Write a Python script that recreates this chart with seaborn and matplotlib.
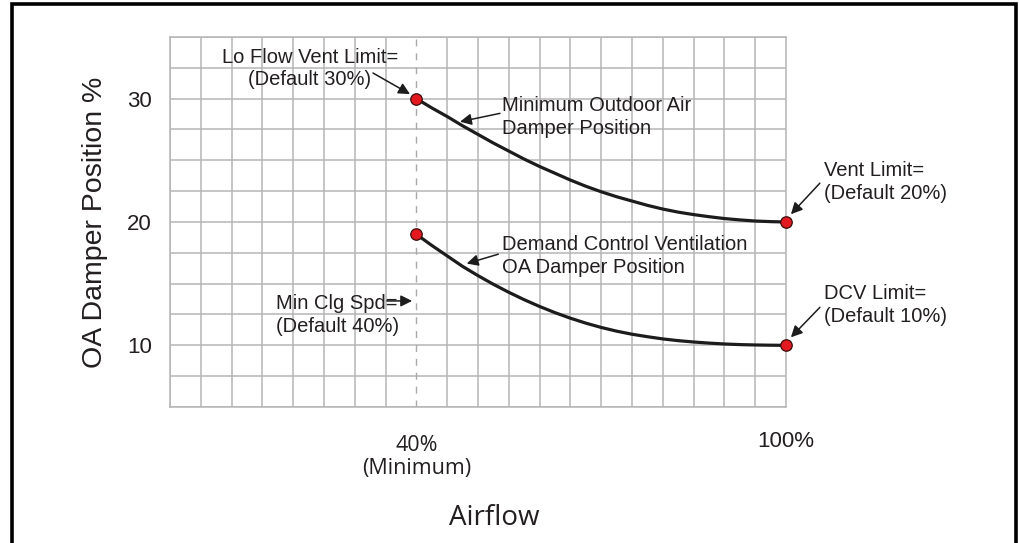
import pandas as pd
import matplotlib
matplotlib.use("Agg")
import matplotlib.pyplot as plt
import matplotlib.ticker as mticker
from matplotlib.patches import Rectangle
import seaborn as sns

# data
airflow = [40, 42.5, 45, 47.5, 50, 52.5, 55, 57.5, 60, 62.5, 65, 67.5, 70,
           72.5, 75, 77.5, 80, 82.5, 85, 87.5, 90, 92.5, 95, 97.5, 100]
min_oa = [30.0, 29.25, 28.55, 27.8, 27.1, 26.4, 25.75, 25.1, 24.5, 23.95, 23.4, 22.9, 22.45,
          22.05, 21.7, 21.35, 21.05, 20.8, 20.6, 20.43, 20.28, 20.17, 20.08, 20.03, 20.0]
dcv_oa = [19.0, 18.1, 17.25, 16.4, 15.65, 14.95, 14.3, 13.7, 13.15, 12.65, 12.2, 11.8, 11.45,
          11.15, 10.9, 10.7, 10.52, 10.38, 10.27, 10.18, 10.11, 10.06, 10.03, 10.01, 10.0]

end_x = [40, 100, 40, 100]
end_y = [30, 20, 19, 10]

y_ticks = [10, 20, 30]
x_ticks = [40, 100]
x_labels = ["40%\n(Minimum)", "100%"]

sns.set_style("white")
plt.rcParams["font.family"] = ["Liberation Sans", "DejaVu Sans"]

txt = "#231f20"
grid_c = "#b5b5b5"

df = pd.DataFrame({
    "airflow": airflow + airflow,
    "pos": min_oa + dcv_oa,
    "curve": ["min"] * len(airflow) + ["dcv"] * len(airflow),
})
ends = pd.DataFrame({"airflow": end_x, "pos": end_y})

fig = plt.figure(figsize=(10.19, 5.43), dpi=100)
ax = fig.add_axes([170 / 1019, 136 / 543, 616 / 1019, 370 / 543])

sns.lineplot(data=df, x="airflow", y="pos", hue="curve", units="curve",
             estimator=None, palette={"min": "#1c1c1c", "dcv": "#1c1c1c"},
             linewidth=2.3, legend=False, ax=ax, zorder=4)
sns.scatterplot(data=ends, x="airflow", y="pos", s=68, color="#e3191f",
                edgecolor="#3a0c0c", linewidth=0.9, ax=ax, zorder=5, clip_on=False)

ax.set_xlim(0, 100)
ax.set_ylim(5, 35)
ax.set_xticks(x_ticks)
ax.set_xticklabels(x_labels)
ax.set_yticks(y_ticks)
ax.xaxis.set_minor_locator(mticker.MultipleLocator(5))
ax.yaxis.set_minor_locator(mticker.MultipleLocator(2.5))
ax.tick_params(which="both", length=0)
ax.tick_params(axis="y", pad=13, labelsize=16, labelcolor=txt)
ax.tick_params(axis="x", pad=17, labelsize=16, labelcolor=txt)
lab40 = ax.get_xticklabels()[0]
lab40.set_fontfamily("Open Sans")
lab40.set_fontsize(15.5)
lab40.set_linespacing(1.1)
lab40.set_y(-0.012)

ax.grid(which="minor", axis="x", color=grid_c, lw=1.1)
ax.grid(which="both", axis="y", color=grid_c, lw=1.1)
for s in ax.spines.values():
    s.set_color(grid_c)
    s.set_linewidth(1.1)
ax.axvline(40, color="#a9a9a9", lw=1.0, ls=(0, (5, 5)), zorder=2)

ax.set_ylabel("OA Damper Position %", fontsize=20.5, color=txt, va="center")
ax.yaxis.set_label_coords(-0.1218, 0.5)
ax.set_xlabel("Airflow", fontsize=20, color=txt, family="Open Sans", va="center")
ax.xaxis.set_label_coords(0.526, -0.3)

# annotations
fs = 14.5
tkw = dict(fontsize=fs, color=txt, va="center", linespacing=1.25)
ax.text(22.7, 32.44, "Lo Flow Vent Limit=\n(Default 30%)", ha="center", multialignment="center", **tkw)
ax.text(53.85, 28.53, "Minimum Outdoor Air\nDamper Position", ha="left", **tkw)
ax.text(106.2, 23.23, "Vent Limit=\n(Default 20%)", ha="left", clip_on=False, **tkw)
ax.text(53.9, 17.26, "Demand Control Ventilation\nOA Damper Position", ha="left", **tkw)
ax.text(17.2, 12.44, "Min Clg Spd=\n(Default 40%)", ha="left", **tkw)
ax.text(106.2, 13.29, "DCV Limit=\n(Default 10%)", ha="left", clip_on=False, **tkw)

arrows = [
    ((32.95, 32.08), (38.96, 30.37)),
    ((53.57, 28.81), (47.08, 28.13)),
    ((105.5, 23.15), (100.8, 20.63)),
    ((53.3, 17.39), (48.17, 16.63)),
    ((35.2, 13.6), (39.3, 13.6)),
    ((105.5, 13.08), (100.8, 10.65)),
]
for tail, head in arrows:
    ax.annotate("", xy=head, xytext=tail, annotation_clip=False,
                arrowprops=dict(arrowstyle="-|>", color="#1c1c1c", lw=1.1,
                                mutation_scale=17, shrinkA=0, shrinkB=0), zorder=6)

# outer frame
fig.add_artist(Rectangle((11.5 / 1019, -0.1), (1015.5 - 11.5) / 1019, 1.1 - 4 / 543,
                         transform=fig.transFigure, fill=False, lw=2.6,
                         edgecolor="black", clip_on=False))

fig.savefig("out.png", dpi=100)
